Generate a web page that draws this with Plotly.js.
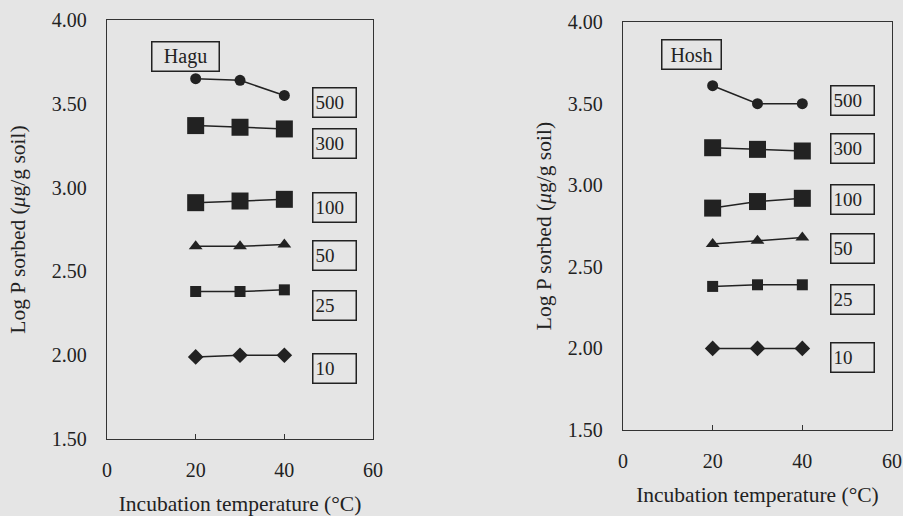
<!DOCTYPE html>
<html>
<head>
<meta charset="utf-8">
<script src="https://cdn.plot.ly/plotly-3.0.1.min.js"></script>
<style>html,body{margin:0;padding:0;background:#e5e5e5;}#chart{width:903px;height:516px;}</style>
</head>
<body>
<div id="chart"></div>
<script>
// Data
const temperatures = [20, 30, 40];
const concentrations = ["500", "300", "100", "50", "25", "10"];
const haguP500 = [3.65, 3.64, 3.55];
const haguP300 = [3.37, 3.36, 3.35];
const haguP100 = [2.91, 2.92, 2.93];
const haguP50  = [2.65, 2.65, 2.66];
const haguP25  = [2.38, 2.38, 2.39];
const haguP10  = [1.99, 2.00, 2.00];
const hoshP500 = [3.61, 3.50, 3.50];
const hoshP300 = [3.23, 3.22, 3.21];
const hoshP100 = [2.86, 2.90, 2.92];
const hoshP50  = [2.64, 2.66, 2.68];
const hoshP25  = [2.38, 2.39, 2.39];
const hoshP10  = [2.00, 2.00, 2.00];
const soils = ["Hagu", "Hosh"];
const xTickVals = [0, 20, 40, 60];
const yTickVals = [1.5, 2.0, 2.5, 3.0, 3.5, 4.0];
const yTickText = ["1.50", "2.00", "2.50", "3.00", "3.50", "4.00"];
const xTitle = "Incubation temperature (°C)";
const yTitle = "Log P sorbed (<i>μ</i>g/g soil)";

const haguSeries = [haguP500, haguP300, haguP100, haguP50, haguP25, haguP10];
const hoshSeries = [hoshP500, hoshP300, hoshP100, hoshP50, hoshP25, hoshP10];

// styles
const ink = "#222222";
const fam = "Liberation Serif, Times New Roman, serif";
const markerStyles = [
  {symbol: "circle", size: 11},
  {symbol: "square", size: 17},
  {symbol: "square", size: 17},
  {symbol: "triangle-up", size: 12},
  {symbol: "square", size: 11},
  {symbol: "diamond", size: 12}
];

const traces = [];
[haguSeries, hoshSeries].forEach((series, p) => {
  series.forEach((vals, i) => {
    traces.push({
      x: temperatures, y: vals, type: "scatter", mode: "lines+markers",
      xaxis: p === 0 ? "x" : "x2", yaxis: p === 0 ? "y" : "y2",
      name: concentrations[i], showlegend: false, hoverinfo: "skip",
      line: {color: ink, width: 1.5},
      marker: {color: ink, symbol: markerStyles[i].symbol, size: markerStyles[i].size, line: {width: 0}}
    });
  });
});

function f(size) { return {family: fam, size: size, color: ink}; }

// label box positions (layout only)
const labelX = 51.3;
const labelYHagu = [3.51, 3.265, 2.88, 2.597, 2.296, 1.92];
const labelYHosh = [3.52, 3.228, 2.915, 2.615, 2.30, 1.947];

const annotations = [];
function addLabels(ys, xr, yr) {
  concentrations.forEach((c, i) => {
    annotations.push({
      x: labelX, y: ys[i], xref: xr, yref: yr, text: c, showarrow: false,
      font: f(19), align: "left", width: 38, height: 24, borderpad: 2,
      bordercolor: ink, borderwidth: 1.5, xanchor: "center", yanchor: "middle"
    });
  });
}
addLabels(labelYHagu, "x", "y");
addLabels(labelYHosh, "x2", "y2");
annotations.push({x: 17.7, y: 3.782, xref: "x", yref: "y", text: soils[0], showarrow: false,
  font: f(20), align: "center", width: 62, height: 24, borderpad: 2, bordercolor: ink, borderwidth: 1.5});
annotations.push({x: 15.2, y: 3.80, xref: "x2", yref: "y2", text: soils[1], showarrow: false,
  font: f(20), align: "center", width: 54, height: 24, borderpad: 2, bordercolor: ink, borderwidth: 1.5});

function xAxis(domain, anchor) {
  return {
    domain: domain, anchor: anchor, range: [0, 60], tickvals: xTickVals,
    showgrid: false, zeroline: false, showline: true, mirror: true,
    linecolor: "#333", linewidth: 1.2, ticks: "inside", ticklen: 5, tickcolor: "#333",
    tickfont: f(20), ticklabelstandoff: 13,
    title: {text: xTitle, font: f(21.5), standoff: 15}
  };
}
function yAxis(domain, anchor, standoff) {
  return {
    domain: domain, anchor: anchor, range: [1.5, 4.0], tickvals: yTickVals, ticktext: yTickText,
    showgrid: false, zeroline: false, showline: true, mirror: true,
    linecolor: "#333", linewidth: 1.2, ticks: "", tickfont: f(20), ticklabelstandoff: 15,
    title: {text: yTitle, font: f(21.5), standoff: standoff}
  };
}

const layout = {
  width: 903, height: 516,
  margin: {l: 107, r: 11, t: 20, b: 77},
  paper_bgcolor: "#e5e5e5", plot_bgcolor: "#e5e5e5",
  font: f(18),
  xaxis: xAxis([0, 0.3389], "y"),
  yaxis: yAxis([0, 1], "x", 20),
  xaxis2: xAxis([0.6573, 1], "y2"),
  yaxis2: yAxis([0.0215, 0.995], "x2", 10),
  annotations: annotations,
  showlegend: false
};

Plotly.newPlot("chart", traces, layout, {staticPlot: true, displayModeBar: false});
</script>
</body>
</html>
